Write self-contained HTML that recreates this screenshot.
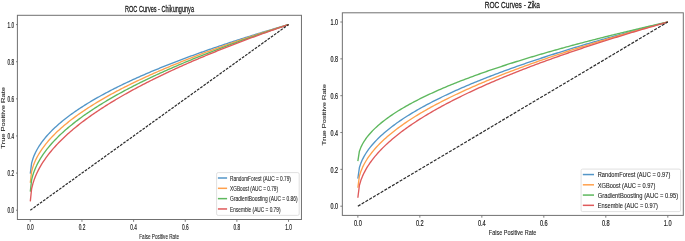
<!DOCTYPE html>
<html><head><meta charset="utf-8"><style>
html,body{margin:0;padding:0;background:#fff;}
body{width:685px;height:241px;overflow:hidden;position:relative;}
svg{position:absolute;left:0;top:0;will-change:transform;}
svg text{font-family:"Liberation Sans", sans-serif;}
</style></head><body>
<svg width="685" height="241" viewBox="0 0 685 241"><polyline points="30.31,173.65 31.61,163.08 32.91,158.70 34.20,155.35 35.50,152.51 36.80,150.02 38.10,147.76 39.39,145.69 40.69,143.76 41.99,141.95 43.29,140.23 44.59,138.60 45.88,137.04 47.18,135.55 48.48,134.11 49.78,132.72 51.07,131.38 52.37,130.08 53.67,128.82 54.97,127.59 56.26,126.39 57.56,125.22 58.86,124.08 60.16,122.97 61.45,121.88 62.75,120.81 64.05,119.77 65.35,118.74 66.64,117.73 67.94,116.74 69.24,115.77 70.54,114.81 71.84,113.87 73.13,112.94 74.43,112.03 75.73,111.13 77.03,110.25 78.32,109.37 79.62,108.51 80.92,107.66 82.22,106.82 83.51,105.99 84.81,105.17 86.11,104.36 87.41,103.55 88.70,102.76 90.00,101.98 91.30,101.20 92.60,100.44 93.89,99.68 95.19,98.93 96.49,98.18 97.79,97.45 99.09,96.72 100.38,96.00 101.68,95.28 102.98,94.57 104.28,93.87 105.57,93.17 106.87,92.48 108.17,91.80 109.47,91.12 110.76,90.44 112.06,89.77 113.36,89.11 114.66,88.45 115.95,87.80 117.25,87.15 118.55,86.51 119.85,85.87 121.15,85.24 122.44,84.61 123.74,83.98 125.04,83.36 126.34,82.75 127.63,82.13 128.93,81.53 130.23,80.92 131.53,80.32 132.82,79.73 134.12,79.13 135.42,78.54 136.72,77.96 138.01,77.38 139.31,76.80 140.61,76.22 141.91,75.65 143.20,75.09 144.50,74.52 145.80,73.96 147.10,73.40 148.40,72.84 149.69,72.29 150.99,71.74 152.29,71.20 153.59,70.65 154.88,70.11 156.18,69.57 157.48,69.04 158.78,68.51 160.07,67.98 161.37,67.45 162.67,66.93 163.97,66.40 165.26,65.89 166.56,65.37 167.86,64.85 169.16,64.34 170.45,63.83 171.75,63.33 173.05,62.82 174.35,62.32 175.65,61.82 176.94,61.32 178.24,60.82 179.54,60.33 180.84,59.84 182.13,59.35 183.43,58.86 184.73,58.38 186.03,57.89 187.32,57.41 188.62,56.93 189.92,56.45 191.22,55.98 192.51,55.51 193.81,55.03 195.11,54.56 196.41,54.10 197.70,53.63 199.00,53.17 200.30,52.70 201.60,52.24 202.90,51.78 204.19,51.33 205.49,50.87 206.79,50.42 208.09,49.96 209.38,49.51 210.68,49.06 211.98,48.62 213.28,48.17 214.57,47.73 215.87,47.28 217.17,46.84 218.47,46.40 219.76,45.97 221.06,45.53 222.36,45.09 223.66,44.66 224.96,44.23 226.25,43.80 227.55,43.37 228.85,42.94 230.15,42.51 231.44,42.09 232.74,41.67 234.04,41.24 235.34,40.82 236.63,40.40 237.93,39.98 239.23,39.57 240.53,39.15 241.82,38.74 243.12,38.32 244.42,37.91 245.72,37.50 247.01,37.09 248.31,36.68 249.61,36.28 250.91,35.87 252.21,35.47 253.50,35.06 254.80,34.66 256.10,34.26 257.40,33.86 258.69,33.46 259.99,33.06 261.29,32.67 262.59,32.27 263.88,31.88 265.18,31.48 266.48,31.09 267.78,30.70 269.07,30.31 270.37,29.92 271.67,29.53 272.97,29.15 274.26,28.76 275.56,28.38 276.86,27.99 278.16,27.61 279.46,27.23 280.75,26.85 282.05,26.47 283.35,26.09 284.65,25.71 285.94,25.33 287.24,24.96 288.54,24.58" fill="none" stroke="#5396c8" stroke-width="1.35" stroke-linejoin="round"/><polyline points="30.31,182.74 31.61,171.53 32.91,166.89 34.20,163.32 35.50,160.32 36.80,157.67 38.10,155.28 39.39,153.08 40.69,151.03 41.99,149.11 43.29,147.29 44.59,145.56 45.88,143.91 47.18,142.32 48.48,140.79 49.78,139.32 51.07,137.90 52.37,136.52 53.67,135.18 54.97,133.87 56.26,132.60 57.56,131.36 58.86,130.16 60.16,128.97 61.45,127.82 62.75,126.68 64.05,125.57 65.35,124.49 66.64,123.42 67.94,122.37 69.24,121.33 70.54,120.32 71.84,119.32 73.13,118.34 74.43,117.37 75.73,116.41 77.03,115.47 78.32,114.55 79.62,113.63 80.92,112.73 82.22,111.83 83.51,110.95 84.81,110.08 86.11,109.22 87.41,108.37 88.70,107.53 90.00,106.70 91.30,105.88 92.60,105.07 93.89,104.26 95.19,103.46 96.49,102.68 97.79,101.89 99.09,101.12 100.38,100.35 101.68,99.59 102.98,98.84 104.28,98.10 105.57,97.36 106.87,96.62 108.17,95.90 109.47,95.18 110.76,94.46 112.06,93.75 113.36,93.05 114.66,92.35 115.95,91.66 117.25,90.97 118.55,90.29 119.85,89.61 121.15,88.94 122.44,88.27 123.74,87.61 125.04,86.95 126.34,86.30 127.63,85.65 128.93,85.00 130.23,84.36 131.53,83.72 132.82,83.09 134.12,82.46 135.42,81.84 136.72,81.22 138.01,80.60 139.31,79.99 140.61,79.38 141.91,78.77 143.20,78.17 144.50,77.57 145.80,76.97 147.10,76.38 148.40,75.79 149.69,75.20 150.99,74.62 152.29,74.04 153.59,73.46 154.88,72.89 156.18,72.32 157.48,71.75 158.78,71.19 160.07,70.63 161.37,70.07 162.67,69.51 163.97,68.96 165.26,68.41 166.56,67.86 167.86,67.31 169.16,66.77 170.45,66.23 171.75,65.69 173.05,65.15 174.35,64.62 175.65,64.09 176.94,63.56 178.24,63.03 179.54,62.51 180.84,61.99 182.13,61.47 183.43,60.95 184.73,60.44 186.03,59.92 187.32,59.41 188.62,58.91 189.92,58.40 191.22,57.89 192.51,57.39 193.81,56.89 195.11,56.39 196.41,55.90 197.70,55.40 199.00,54.91 200.30,54.42 201.60,53.93 202.90,53.44 204.19,52.96 205.49,52.47 206.79,51.99 208.09,51.51 209.38,51.03 210.68,50.56 211.98,50.08 213.28,49.61 214.57,49.14 215.87,48.67 217.17,48.20 218.47,47.74 219.76,47.27 221.06,46.81 222.36,46.35 223.66,45.89 224.96,45.43 226.25,44.97 227.55,44.52 228.85,44.06 230.15,43.61 231.44,43.16 232.74,42.71 234.04,42.26 235.34,41.81 236.63,41.37 237.93,40.92 239.23,40.48 240.53,40.04 241.82,39.60 243.12,39.16 244.42,38.73 245.72,38.29 247.01,37.86 248.31,37.42 249.61,36.99 250.91,36.56 252.21,36.13 253.50,35.70 254.80,35.28 256.10,34.85 257.40,34.43 258.69,34.00 259.99,33.58 261.29,33.16 262.59,32.74 263.88,32.32 265.18,31.90 266.48,31.49 267.78,31.07 269.07,30.66 270.37,30.25 271.67,29.84 272.97,29.42 274.26,29.02 275.56,28.61 276.86,28.20 278.16,27.79 279.46,27.39 280.75,26.98 282.05,26.58 283.35,26.18 284.65,25.78 285.94,25.38 287.24,24.98 288.54,24.58" fill="none" stroke="#ffa04c" stroke-width="1.35" stroke-linejoin="round"/><polyline points="30.31,191.65 31.61,179.81 32.91,174.91 34.20,171.14 35.50,167.97 36.80,165.17 38.10,162.64 39.39,160.32 40.69,158.16 41.99,156.12 43.29,154.20 44.59,152.37 45.88,150.63 47.18,148.95 48.48,147.34 49.78,145.78 51.07,144.28 52.37,142.82 53.67,141.41 54.97,140.03 56.26,138.69 57.56,137.38 58.86,136.10 60.16,134.86 61.45,133.63 62.75,132.44 64.05,131.26 65.35,130.11 66.64,128.98 67.94,127.88 69.24,126.79 70.54,125.71 71.84,124.66 73.13,123.62 74.43,122.60 75.73,121.59 77.03,120.59 78.32,119.61 79.62,118.65 80.92,117.69 82.22,116.75 83.51,115.82 84.81,114.90 86.11,113.99 87.41,113.09 88.70,112.21 90.00,111.33 91.30,110.46 92.60,109.60 93.89,108.75 95.19,107.91 96.49,107.08 97.79,106.25 99.09,105.43 100.38,104.62 101.68,103.82 102.98,103.03 104.28,102.24 105.57,101.46 106.87,100.68 108.17,99.92 109.47,99.15 110.76,98.40 112.06,97.65 113.36,96.91 114.66,96.17 115.95,95.44 117.25,94.71 118.55,93.99 119.85,93.28 121.15,92.56 122.44,91.86 123.74,91.16 125.04,90.46 126.34,89.77 127.63,89.09 128.93,88.41 130.23,87.73 131.53,87.06 132.82,86.39 134.12,85.72 135.42,85.06 136.72,84.41 138.01,83.76 139.31,83.11 140.61,82.46 141.91,81.82 143.20,81.19 144.50,80.55 145.80,79.92 147.10,79.30 148.40,78.68 149.69,78.06 150.99,77.44 152.29,76.83 153.59,76.22 154.88,75.61 156.18,75.01 157.48,74.41 158.78,73.81 160.07,73.22 161.37,72.63 162.67,72.04 163.97,71.46 165.26,70.87 166.56,70.30 167.86,69.72 169.16,69.14 170.45,68.57 171.75,68.01 173.05,67.44 174.35,66.88 175.65,66.32 176.94,65.76 178.24,65.20 179.54,64.65 180.84,64.10 182.13,63.55 183.43,63.00 184.73,62.46 186.03,61.92 187.32,61.38 188.62,60.84 189.92,60.30 191.22,59.77 192.51,59.24 193.81,58.71 195.11,58.19 196.41,57.66 197.70,57.14 199.00,56.62 200.30,56.10 201.60,55.58 202.90,55.07 204.19,54.56 205.49,54.05 206.79,53.54 208.09,53.03 209.38,52.53 210.68,52.02 211.98,51.52 213.28,51.02 214.57,50.52 215.87,50.03 217.17,49.53 218.47,49.04 219.76,48.55 221.06,48.06 222.36,47.57 223.66,47.09 224.96,46.60 226.25,46.12 227.55,45.64 228.85,45.16 230.15,44.68 231.44,44.20 232.74,43.73 234.04,43.26 235.34,42.78 236.63,42.31 237.93,41.85 239.23,41.38 240.53,40.91 241.82,40.45 243.12,39.98 244.42,39.52 245.72,39.06 247.01,38.60 248.31,38.15 249.61,37.69 250.91,37.23 252.21,36.78 253.50,36.33 254.80,35.88 256.10,35.43 257.40,34.98 258.69,34.53 259.99,34.09 261.29,33.64 262.59,33.20 263.88,32.76 265.18,32.32 266.48,31.88 267.78,31.44 269.07,31.00 270.37,30.57 271.67,30.13 272.97,29.70 274.26,29.27 275.56,28.83 276.86,28.40 278.16,27.97 279.46,27.55 280.75,27.12 282.05,26.69 283.35,26.27 284.65,25.85 285.94,25.42 287.24,25.00 288.54,24.58" fill="none" stroke="#5eb85e" stroke-width="1.35" stroke-linejoin="round"/><polyline points="30.31,201.31 31.61,188.78 32.91,183.59 34.20,179.61 35.50,176.25 36.80,173.29 38.10,170.62 39.39,168.16 40.69,165.87 41.99,163.72 43.29,161.69 44.59,159.76 45.88,157.91 47.18,156.14 48.48,154.43 49.78,152.79 51.07,151.20 52.37,149.65 53.67,148.16 54.97,146.70 56.26,145.28 57.56,143.90 58.86,142.55 60.16,141.23 61.45,139.93 62.75,138.67 64.05,137.43 65.35,136.21 66.64,135.02 67.94,133.84 69.24,132.69 70.54,131.56 71.84,130.44 73.13,129.34 74.43,128.26 75.73,127.19 77.03,126.14 78.32,125.10 79.62,124.08 80.92,123.07 82.22,122.08 83.51,121.09 84.81,120.12 86.11,119.16 87.41,118.21 88.70,117.27 90.00,116.34 91.30,115.42 92.60,114.51 93.89,113.61 95.19,112.72 96.49,111.84 97.79,110.97 99.09,110.10 100.38,109.25 101.68,108.40 102.98,107.56 104.28,106.73 105.57,105.90 106.87,105.08 108.17,104.27 109.47,103.46 110.76,102.66 112.06,101.87 113.36,101.09 114.66,100.31 115.95,99.53 117.25,98.76 118.55,98.00 119.85,97.24 121.15,96.49 122.44,95.75 123.74,95.01 125.04,94.27 126.34,93.54 127.63,92.81 128.93,92.09 130.23,91.38 131.53,90.67 132.82,89.96 134.12,89.26 135.42,88.56 136.72,87.86 138.01,87.17 139.31,86.49 140.61,85.81 141.91,85.13 143.20,84.46 144.50,83.79 145.80,83.12 147.10,82.46 148.40,81.80 149.69,81.15 150.99,80.49 152.29,79.85 153.59,79.20 154.88,78.56 156.18,77.92 157.48,77.29 158.78,76.66 160.07,76.03 161.37,75.41 162.67,74.78 163.97,74.16 165.26,73.55 166.56,72.94 167.86,72.33 169.16,71.72 170.45,71.12 171.75,70.51 173.05,69.92 174.35,69.32 175.65,68.73 176.94,68.14 178.24,67.55 179.54,66.96 180.84,66.38 182.13,65.80 183.43,65.22 184.73,64.65 186.03,64.07 187.32,63.50 188.62,62.93 189.92,62.37 191.22,61.80 192.51,61.24 193.81,60.68 195.11,60.13 196.41,59.57 197.70,59.02 199.00,58.47 200.30,57.92 201.60,57.37 202.90,56.83 204.19,56.29 205.49,55.75 206.79,55.21 208.09,54.67 209.38,54.14 210.68,53.61 211.98,53.08 213.28,52.55 214.57,52.02 215.87,51.50 217.17,50.97 218.47,50.45 219.76,49.93 221.06,49.42 222.36,48.90 223.66,48.39 224.96,47.87 226.25,47.36 227.55,46.86 228.85,46.35 230.15,45.84 231.44,45.34 232.74,44.84 234.04,44.34 235.34,43.84 236.63,43.34 237.93,42.84 239.23,42.35 240.53,41.86 241.82,41.36 243.12,40.87 244.42,40.39 245.72,39.90 247.01,39.41 248.31,38.93 249.61,38.45 250.91,37.97 252.21,37.49 253.50,37.01 254.80,36.53 256.10,36.06 257.40,35.58 258.69,35.11 259.99,34.64 261.29,34.17 262.59,33.70 263.88,33.23 265.18,32.76 266.48,32.30 267.78,31.84 269.07,31.37 270.37,30.91 271.67,30.45 272.97,29.99 274.26,29.54 275.56,29.08 276.86,28.62 278.16,28.17 279.46,27.72 280.75,27.27 282.05,26.82 283.35,26.37 284.65,25.92 285.94,25.47 287.24,25.03 288.54,24.58" fill="none" stroke="#df5a5b" stroke-width="1.35" stroke-linejoin="round"/><line x1="30.31" y1="210.22" x2="288.54" y2="24.58" stroke="#2a2a2a" stroke-width="1.2" stroke-dasharray="2.75 1.20"/><rect x="17.40" y="15.30" width="284.05" height="204.20" fill="none" stroke="#707070" stroke-width="1"/><line x1="30.31" y1="219.50" x2="30.31" y2="221.80" stroke="#707070" stroke-width="0.9"/><line x1="16.00" y1="210.22" x2="17.40" y2="210.22" stroke="#707070" stroke-width="0.9"/><line x1="81.96" y1="219.50" x2="81.96" y2="221.80" stroke="#707070" stroke-width="0.9"/><line x1="16.00" y1="173.09" x2="17.40" y2="173.09" stroke="#707070" stroke-width="0.9"/><line x1="133.60" y1="219.50" x2="133.60" y2="221.80" stroke="#707070" stroke-width="0.9"/><line x1="16.00" y1="135.96" x2="17.40" y2="135.96" stroke="#707070" stroke-width="0.9"/><line x1="185.25" y1="219.50" x2="185.25" y2="221.80" stroke="#707070" stroke-width="0.9"/><line x1="16.00" y1="98.84" x2="17.40" y2="98.84" stroke="#707070" stroke-width="0.9"/><line x1="236.89" y1="219.50" x2="236.89" y2="221.80" stroke="#707070" stroke-width="0.9"/><line x1="16.00" y1="61.71" x2="17.40" y2="61.71" stroke="#707070" stroke-width="0.9"/><line x1="288.54" y1="219.50" x2="288.54" y2="221.80" stroke="#707070" stroke-width="0.9"/><line x1="16.00" y1="24.58" x2="17.40" y2="24.58" stroke="#707070" stroke-width="0.9"/><rect x="216.60" y="172.60" width="82.60" height="42.80" rx="1.5" fill="#fff" fill-opacity="0.8" stroke="#dcdcdc" stroke-width="0.9"/><line x1="217.90" y1="178.00" x2="227.10" y2="178.00" stroke="#5396c8" stroke-width="1.5"/><line x1="217.90" y1="188.32" x2="227.10" y2="188.32" stroke="#ffa04c" stroke-width="1.5"/><line x1="217.90" y1="198.64" x2="227.10" y2="198.64" stroke="#5eb85e" stroke-width="1.5"/><line x1="217.90" y1="208.96" x2="227.10" y2="208.96" stroke="#df5a5b" stroke-width="1.5"/><g fill="#1a1a1a" stroke="#1a1a1a" stroke-width="0.1"><text stroke-width="0.18" transform="translate(30.31,230.00) scale(0.585,1)" font-size="8.2" text-anchor="middle">0.0</text><text stroke-width="0.22" transform="translate(14.10,213.37) scale(0.57,1)" font-size="8.2" text-anchor="end">0.0</text><text stroke-width="0.18" transform="translate(81.96,230.00) scale(0.585,1)" font-size="8.2" text-anchor="middle">0.2</text><text stroke-width="0.22" transform="translate(14.10,176.24) scale(0.57,1)" font-size="8.2" text-anchor="end">0.2</text><text stroke-width="0.18" transform="translate(133.60,230.00) scale(0.585,1)" font-size="8.2" text-anchor="middle">0.4</text><text stroke-width="0.22" transform="translate(14.10,139.11) scale(0.57,1)" font-size="8.2" text-anchor="end">0.4</text><text stroke-width="0.18" transform="translate(185.25,230.00) scale(0.585,1)" font-size="8.2" text-anchor="middle">0.6</text><text stroke-width="0.22" transform="translate(14.10,101.99) scale(0.57,1)" font-size="8.2" text-anchor="end">0.6</text><text stroke-width="0.18" transform="translate(236.89,230.00) scale(0.585,1)" font-size="8.2" text-anchor="middle">0.8</text><text stroke-width="0.22" transform="translate(14.10,64.86) scale(0.57,1)" font-size="8.2" text-anchor="end">0.8</text><text stroke-width="0.18" transform="translate(288.54,230.00) scale(0.585,1)" font-size="8.2" text-anchor="middle">1.0</text><text stroke-width="0.22" transform="translate(14.10,27.73) scale(0.57,1)" font-size="8.2" text-anchor="end">1.0</text><text transform="translate(159.15,238.80)" font-size="7.9" text-anchor="middle" textLength="39.70" lengthAdjust="spacingAndGlyphs">False Positive Rate</text><text stroke-width="0.12" fill="#2a2a2a" stroke="#2a2a2a" transform="translate(5.15,117.90) scale(0.72,1) rotate(-90)" font-size="7.9" text-anchor="middle" textLength="61.60" lengthAdjust="spacingAndGlyphs">True Positive Rate</text><text stroke-width="0.28" transform="translate(159.50,11.50)" font-size="9.5" text-anchor="middle" textLength="69.00" lengthAdjust="spacingAndGlyphs">ROC Curves - Chikungunya</text><text transform="translate(230.10,180.75)" font-size="8.1" text-anchor="start" textLength="60.80" lengthAdjust="spacingAndGlyphs">RandomForest (AUC = 0.79)</text><text transform="translate(230.10,191.07)" font-size="8.1" text-anchor="start" textLength="47.90" lengthAdjust="spacingAndGlyphs">XGBoost (AUC = 0.79)</text><text transform="translate(230.10,201.39)" font-size="8.1" text-anchor="start" textLength="67.50" lengthAdjust="spacingAndGlyphs">GradientBoosting (AUC = 0.86)</text><text transform="translate(230.10,211.71)" font-size="8.1" text-anchor="start" textLength="50.40" lengthAdjust="spacingAndGlyphs">Ensemble (AUC = 0.79)</text></g><polyline points="357.85,178.56 359.41,167.47 360.96,162.87 362.52,159.34 364.08,156.37 365.64,153.75 367.19,151.38 368.75,149.20 370.31,147.17 371.87,145.27 373.42,143.47 374.98,141.76 376.54,140.12 378.10,138.55 379.65,137.04 381.21,135.58 382.77,134.17 384.33,132.81 385.88,131.48 387.44,130.19 389.00,128.93 390.56,127.71 392.11,126.51 393.67,125.34 395.23,124.20 396.79,123.07 398.34,121.98 399.90,120.90 401.46,119.84 403.02,118.80 404.57,117.78 406.13,116.77 407.69,115.78 409.25,114.81 410.80,113.85 412.36,112.91 413.92,111.98 415.48,111.06 417.04,110.15 418.59,109.26 420.15,108.37 421.71,107.50 423.27,106.64 424.82,105.79 426.38,104.95 427.94,104.12 429.50,103.29 431.05,102.48 432.61,101.68 434.17,100.88 435.73,100.09 437.28,99.31 438.84,98.54 440.40,97.77 441.96,97.01 443.51,96.26 445.07,95.51 446.63,94.78 448.19,94.04 449.74,93.32 451.30,92.60 452.86,91.89 454.42,91.18 455.97,90.48 457.53,89.78 459.09,89.09 460.65,88.40 462.20,87.72 463.76,87.05 465.32,86.38 466.88,85.71 468.43,85.05 469.99,84.40 471.55,83.74 473.11,83.10 474.66,82.45 476.22,81.81 477.78,81.18 479.34,80.55 480.90,79.92 482.45,79.30 484.01,78.68 485.57,78.07 487.13,77.46 488.68,76.85 490.24,76.25 491.80,75.65 493.36,75.05 494.91,74.46 496.47,73.87 498.03,73.28 499.59,72.70 501.14,72.12 502.70,71.54 504.26,70.97 505.82,70.40 507.37,69.83 508.93,69.26 510.49,68.70 512.05,68.14 513.60,67.59 515.16,67.03 516.72,66.48 518.28,65.93 519.83,65.39 521.39,64.84 522.95,64.30 524.51,63.77 526.06,63.23 527.62,62.70 529.18,62.17 530.74,61.64 532.29,61.11 533.85,60.59 535.41,60.07 536.97,59.55 538.52,59.04 540.08,58.52 541.64,58.01 543.20,57.50 544.75,56.99 546.31,56.49 547.87,55.98 549.43,55.48 550.99,54.98 552.54,54.49 554.10,53.99 555.66,53.50 557.22,53.01 558.77,52.52 560.33,52.03 561.89,51.54 563.45,51.06 565.00,50.58 566.56,50.10 568.12,49.62 569.68,49.14 571.23,48.67 572.79,48.19 574.35,47.72 575.91,47.25 577.46,46.78 579.02,46.32 580.58,45.85 582.14,45.39 583.69,44.93 585.25,44.47 586.81,44.01 588.37,43.55 589.92,43.10 591.48,42.64 593.04,42.19 594.60,41.74 596.15,41.29 597.71,40.84 599.27,40.40 600.83,39.95 602.38,39.51 603.94,39.07 605.50,38.62 607.06,38.19 608.61,37.75 610.17,37.31 611.73,36.88 613.29,36.44 614.85,36.01 616.40,35.58 617.96,35.15 619.52,34.72 621.08,34.29 622.63,33.87 624.19,33.44 625.75,33.02 627.31,32.59 628.86,32.17 630.42,31.75 631.98,31.33 633.54,30.92 635.09,30.50 636.65,30.08 638.21,29.67 639.77,29.26 641.32,28.85 642.88,28.43 644.44,28.02 646.00,27.62 647.55,27.21 649.11,26.80 650.67,26.40 652.23,25.99 653.78,25.59 655.34,25.19 656.90,24.79 658.46,24.39 660.01,23.99 661.57,23.59 663.13,23.19 664.69,22.80 666.24,22.40 667.80,22.01" fill="none" stroke="#5396c8" stroke-width="1.35" stroke-linejoin="round"/><polyline points="357.85,187.77 359.41,176.02 360.96,171.15 362.52,167.42 364.08,164.27 365.64,161.50 367.19,158.99 368.75,156.68 370.31,154.54 371.87,152.52 373.42,150.61 374.98,148.80 376.54,147.07 378.10,145.41 379.65,143.81 381.21,142.26 382.77,140.77 384.33,139.32 385.88,137.92 387.44,136.55 389.00,135.22 390.56,133.92 392.11,132.66 393.67,131.42 395.23,130.21 396.79,129.02 398.34,127.86 399.90,126.71 401.46,125.59 403.02,124.49 404.57,123.41 406.13,122.35 407.69,121.30 409.25,120.27 410.80,119.26 412.36,118.25 413.92,117.27 415.48,116.30 417.04,115.34 418.59,114.39 420.15,113.45 421.71,112.53 423.27,111.62 424.82,110.72 426.38,109.83 427.94,108.95 429.50,108.08 431.05,107.21 432.61,106.36 434.17,105.52 435.73,104.68 437.28,103.86 438.84,103.04 440.40,102.23 441.96,101.42 443.51,100.63 445.07,99.84 446.63,99.06 448.19,98.28 449.74,97.51 451.30,96.75 452.86,96.00 454.42,95.25 455.97,94.50 457.53,93.77 459.09,93.04 460.65,92.31 462.20,91.59 463.76,90.87 465.32,90.16 466.88,89.46 468.43,88.76 469.99,88.06 471.55,87.37 473.11,86.69 474.66,86.01 476.22,85.33 477.78,84.66 479.34,83.99 480.90,83.33 482.45,82.67 484.01,82.02 485.57,81.37 487.13,80.72 488.68,80.08 490.24,79.44 491.80,78.80 493.36,78.17 494.91,77.54 496.47,76.92 498.03,76.30 499.59,75.68 501.14,75.06 502.70,74.45 504.26,73.85 505.82,73.24 507.37,72.64 508.93,72.04 510.49,71.45 512.05,70.86 513.60,70.27 515.16,69.68 516.72,69.10 518.28,68.52 519.83,67.94 521.39,67.36 522.95,66.79 524.51,66.22 526.06,65.66 527.62,65.09 529.18,64.53 530.74,63.97 532.29,63.42 533.85,62.86 535.41,62.31 536.97,61.76 538.52,61.21 540.08,60.67 541.64,60.13 543.20,59.59 544.75,59.05 546.31,58.52 547.87,57.98 549.43,57.45 550.99,56.92 552.54,56.40 554.10,55.87 555.66,55.35 557.22,54.83 558.77,54.31 560.33,53.79 561.89,53.28 563.45,52.77 565.00,52.26 566.56,51.75 568.12,51.24 569.68,50.74 571.23,50.23 572.79,49.73 574.35,49.23 575.91,48.74 577.46,48.24 579.02,47.75 580.58,47.26 582.14,46.76 583.69,46.28 585.25,45.79 586.81,45.30 588.37,44.82 589.92,44.34 591.48,43.86 593.04,43.38 594.60,42.90 596.15,42.42 597.71,41.95 599.27,41.48 600.83,41.01 602.38,40.54 603.94,40.07 605.50,39.60 607.06,39.14 608.61,38.67 610.17,38.21 611.73,37.75 613.29,37.29 614.85,36.83 616.40,36.38 617.96,35.92 619.52,35.47 621.08,35.01 622.63,34.56 624.19,34.11 625.75,33.66 627.31,33.22 628.86,32.77 630.42,32.33 631.98,31.88 633.54,31.44 635.09,31.00 636.65,30.56 638.21,30.12 639.77,29.68 641.32,29.25 642.88,28.81 644.44,28.38 646.00,27.95 647.55,27.51 649.11,27.08 650.67,26.66 652.23,26.23 653.78,25.80 655.34,25.38 656.90,24.95 658.46,24.53 660.01,24.10 661.57,23.68 663.13,23.26 664.69,22.84 666.24,22.43 667.80,22.01" fill="none" stroke="#ffa04c" stroke-width="1.35" stroke-linejoin="round"/><polyline points="357.85,161.07 359.41,151.21 360.96,147.13 362.52,143.99 364.08,141.35 365.64,139.02 367.19,136.92 368.75,134.99 370.31,133.19 371.87,131.49 373.42,129.89 374.98,128.37 376.54,126.92 378.10,125.52 379.65,124.18 381.21,122.89 382.77,121.64 384.33,120.42 385.88,119.24 387.44,118.10 389.00,116.98 390.56,115.89 392.11,114.83 393.67,113.79 395.23,112.77 396.79,111.78 398.34,110.80 399.90,109.85 401.46,108.91 403.02,107.98 404.57,107.07 406.13,106.18 407.69,105.30 409.25,104.44 410.80,103.59 412.36,102.75 413.92,101.92 415.48,101.11 417.04,100.30 418.59,99.51 420.15,98.72 421.71,97.95 423.27,97.18 424.82,96.43 426.38,95.68 427.94,94.94 429.50,94.21 431.05,93.49 432.61,92.77 434.17,92.06 435.73,91.36 437.28,90.67 438.84,89.98 440.40,89.30 441.96,88.63 443.51,87.96 445.07,87.30 446.63,86.64 448.19,85.99 449.74,85.35 451.30,84.71 452.86,84.08 454.42,83.45 455.97,82.82 457.53,82.21 459.09,81.59 460.65,80.98 462.20,80.38 463.76,79.78 465.32,79.18 466.88,78.59 468.43,78.01 469.99,77.42 471.55,76.84 473.11,76.27 474.66,75.70 476.22,75.13 477.78,74.57 479.34,74.01 480.90,73.45 482.45,72.90 484.01,72.35 485.57,71.80 487.13,71.26 488.68,70.72 490.24,70.18 491.80,69.65 493.36,69.12 494.91,68.59 496.47,68.07 498.03,67.55 499.59,67.03 501.14,66.52 502.70,66.00 504.26,65.49 505.82,64.99 507.37,64.48 508.93,63.98 510.49,63.48 512.05,62.99 513.60,62.49 515.16,62.00 516.72,61.51 518.28,61.02 519.83,60.54 521.39,60.06 522.95,59.58 524.51,59.10 526.06,58.62 527.62,58.15 529.18,57.68 530.74,57.21 532.29,56.74 533.85,56.28 535.41,55.82 536.97,55.36 538.52,54.90 540.08,54.44 541.64,53.99 543.20,53.53 544.75,53.08 546.31,52.63 547.87,52.19 549.43,51.74 550.99,51.30 552.54,50.86 554.10,50.42 555.66,49.98 557.22,49.54 558.77,49.11 560.33,48.67 561.89,48.24 563.45,47.81 565.00,47.38 566.56,46.96 568.12,46.53 569.68,46.11 571.23,45.69 572.79,45.27 574.35,44.85 575.91,44.43 577.46,44.01 579.02,43.60 580.58,43.19 582.14,42.78 583.69,42.37 585.25,41.96 586.81,41.55 588.37,41.14 589.92,40.74 591.48,40.34 593.04,39.94 594.60,39.53 596.15,39.14 597.71,38.74 599.27,38.34 600.83,37.95 602.38,37.55 603.94,37.16 605.50,36.77 607.06,36.38 608.61,35.99 610.17,35.60 611.73,35.21 613.29,34.83 614.85,34.44 616.40,34.06 617.96,33.68 619.52,33.30 621.08,32.92 622.63,32.54 624.19,32.16 625.75,31.79 627.31,31.41 628.86,31.04 630.42,30.66 631.98,30.29 633.54,29.92 635.09,29.55 636.65,29.18 638.21,28.81 639.77,28.45 641.32,28.08 642.88,27.72 644.44,27.35 646.00,26.99 647.55,26.63 649.11,26.27 650.67,25.91 652.23,25.55 653.78,25.19 655.34,24.83 656.90,24.48 658.46,24.12 660.01,23.77 661.57,23.41 663.13,23.06 664.69,22.71 666.24,22.36 667.80,22.01" fill="none" stroke="#5eb85e" stroke-width="1.35" stroke-linejoin="round"/><polyline points="357.85,197.72 359.41,185.26 360.96,180.10 362.52,176.14 364.08,172.81 365.64,169.87 367.19,167.21 368.75,164.76 370.31,162.49 371.87,160.35 373.42,158.33 374.98,156.41 376.54,154.57 378.10,152.81 379.65,151.11 381.21,149.48 382.77,147.90 384.33,146.36 385.88,144.87 387.44,143.43 389.00,142.01 390.56,140.64 392.11,139.30 393.67,137.98 395.23,136.70 396.79,135.44 398.34,134.21 399.90,133.00 401.46,131.81 403.02,130.64 404.57,129.50 406.13,128.37 407.69,127.26 409.25,126.17 410.80,125.09 412.36,124.03 413.92,122.98 415.48,121.95 417.04,120.94 418.59,119.93 420.15,118.94 421.71,117.96 423.27,117.00 424.82,116.04 426.38,115.10 427.94,114.16 429.50,113.24 431.05,112.33 432.61,111.42 434.17,110.53 435.73,109.64 437.28,108.77 438.84,107.90 440.40,107.04 441.96,106.19 443.51,105.34 445.07,104.51 446.63,103.68 448.19,102.86 449.74,102.04 451.30,101.24 452.86,100.44 454.42,99.64 455.97,98.85 457.53,98.07 459.09,97.30 460.65,96.53 462.20,95.76 463.76,95.01 465.32,94.25 466.88,93.51 468.43,92.76 469.99,92.03 471.55,91.30 473.11,90.57 474.66,89.85 476.22,89.13 477.78,88.42 479.34,87.71 480.90,87.01 482.45,86.31 484.01,85.62 485.57,84.93 487.13,84.24 488.68,83.56 490.24,82.88 491.80,82.21 493.36,81.54 494.91,80.87 496.47,80.21 498.03,79.55 499.59,78.90 501.14,78.25 502.70,77.60 504.26,76.96 505.82,76.32 507.37,75.68 508.93,75.04 510.49,74.41 512.05,73.79 513.60,73.16 515.16,72.54 516.72,71.92 518.28,71.31 519.83,70.69 521.39,70.09 522.95,69.48 524.51,68.88 526.06,68.27 527.62,67.68 529.18,67.08 530.74,66.49 532.29,65.90 533.85,65.31 535.41,64.73 536.97,64.15 538.52,63.57 540.08,62.99 541.64,62.41 543.20,61.84 544.75,61.27 546.31,60.71 547.87,60.14 549.43,59.58 550.99,59.02 552.54,58.46 554.10,57.90 555.66,57.35 557.22,56.80 558.77,56.25 560.33,55.70 561.89,55.16 563.45,54.61 565.00,54.07 566.56,53.53 568.12,53.00 569.68,52.46 571.23,51.93 572.79,51.40 574.35,50.87 575.91,50.34 577.46,49.82 579.02,49.29 580.58,48.77 582.14,48.25 583.69,47.73 585.25,47.22 586.81,46.70 588.37,46.19 589.92,45.68 591.48,45.17 593.04,44.66 594.60,44.15 596.15,43.65 597.71,43.15 599.27,42.65 600.83,42.15 602.38,41.65 603.94,41.15 605.50,40.66 607.06,40.16 608.61,39.67 610.17,39.18 611.73,38.69 613.29,38.21 614.85,37.72 616.40,37.24 617.96,36.76 619.52,36.27 621.08,35.79 622.63,35.32 624.19,34.84 625.75,34.36 627.31,33.89 628.86,33.42 630.42,32.94 631.98,32.47 633.54,32.01 635.09,31.54 636.65,31.07 638.21,30.61 639.77,30.14 641.32,29.68 642.88,29.22 644.44,28.76 646.00,28.30 647.55,27.85 649.11,27.39 650.67,26.93 652.23,26.48 653.78,26.03 655.34,25.58 656.90,25.13 658.46,24.68 660.01,24.23 661.57,23.78 663.13,23.34 664.69,22.89 666.24,22.45 667.80,22.01" fill="none" stroke="#df5a5b" stroke-width="1.35" stroke-linejoin="round"/><line x1="357.85" y1="206.19" x2="667.80" y2="22.01" stroke="#2a2a2a" stroke-width="1.2" stroke-dasharray="3.08 1.34"/><rect x="342.35" y="12.80" width="340.95" height="202.60" fill="none" stroke="#707070" stroke-width="1"/><line x1="357.85" y1="215.40" x2="357.85" y2="217.70" stroke="#707070" stroke-width="0.9"/><line x1="340.35" y1="206.19" x2="342.35" y2="206.19" stroke="#707070" stroke-width="0.9"/><line x1="419.84" y1="215.40" x2="419.84" y2="217.70" stroke="#707070" stroke-width="0.9"/><line x1="340.35" y1="169.35" x2="342.35" y2="169.35" stroke="#707070" stroke-width="0.9"/><line x1="481.83" y1="215.40" x2="481.83" y2="217.70" stroke="#707070" stroke-width="0.9"/><line x1="340.35" y1="132.52" x2="342.35" y2="132.52" stroke="#707070" stroke-width="0.9"/><line x1="543.82" y1="215.40" x2="543.82" y2="217.70" stroke="#707070" stroke-width="0.9"/><line x1="340.35" y1="95.68" x2="342.35" y2="95.68" stroke="#707070" stroke-width="0.9"/><line x1="605.81" y1="215.40" x2="605.81" y2="217.70" stroke="#707070" stroke-width="0.9"/><line x1="340.35" y1="58.85" x2="342.35" y2="58.85" stroke="#707070" stroke-width="0.9"/><line x1="667.80" y1="215.40" x2="667.80" y2="217.70" stroke="#707070" stroke-width="0.9"/><line x1="340.35" y1="22.01" x2="342.35" y2="22.01" stroke="#707070" stroke-width="0.9"/><rect x="581.10" y="169.10" width="99.50" height="42.50" rx="1.5" fill="#fff" fill-opacity="0.8" stroke="#dcdcdc" stroke-width="0.9"/><line x1="582.80" y1="174.55" x2="594.00" y2="174.55" stroke="#5396c8" stroke-width="1.5"/><line x1="582.80" y1="184.81" x2="594.00" y2="184.81" stroke="#ffa04c" stroke-width="1.5"/><line x1="582.80" y1="195.07" x2="594.00" y2="195.07" stroke="#5eb85e" stroke-width="1.5"/><line x1="582.80" y1="205.33" x2="594.00" y2="205.33" stroke="#df5a5b" stroke-width="1.5"/><g fill="#1a1a1a" stroke="#1a1a1a" stroke-width="0.1"><text stroke-width="0.18" transform="translate(357.85,225.90) scale(0.69,1)" font-size="8.2" text-anchor="middle">0.0</text><text stroke-width="0.22" transform="translate(338.00,209.34) scale(0.66,1)" font-size="8.2" text-anchor="end">0.0</text><text stroke-width="0.18" transform="translate(419.84,225.90) scale(0.69,1)" font-size="8.2" text-anchor="middle">0.2</text><text stroke-width="0.22" transform="translate(338.00,172.50) scale(0.66,1)" font-size="8.2" text-anchor="end">0.2</text><text stroke-width="0.18" transform="translate(481.83,225.90) scale(0.69,1)" font-size="8.2" text-anchor="middle">0.4</text><text stroke-width="0.22" transform="translate(338.00,135.67) scale(0.66,1)" font-size="8.2" text-anchor="end">0.4</text><text stroke-width="0.18" transform="translate(543.82,225.90) scale(0.69,1)" font-size="8.2" text-anchor="middle">0.6</text><text stroke-width="0.22" transform="translate(338.00,98.83) scale(0.66,1)" font-size="8.2" text-anchor="end">0.6</text><text stroke-width="0.18" transform="translate(605.81,225.90) scale(0.69,1)" font-size="8.2" text-anchor="middle">0.8</text><text stroke-width="0.22" transform="translate(338.00,62.00) scale(0.66,1)" font-size="8.2" text-anchor="end">0.8</text><text stroke-width="0.18" transform="translate(667.80,225.90) scale(0.69,1)" font-size="8.2" text-anchor="middle">1.0</text><text stroke-width="0.22" transform="translate(338.00,25.16) scale(0.66,1)" font-size="8.2" text-anchor="end">1.0</text><text transform="translate(512.55,234.70)" font-size="7.9" text-anchor="middle" textLength="47.50" lengthAdjust="spacingAndGlyphs">False Positive Rate</text><text stroke-width="0.12" fill="#2a2a2a" stroke="#2a2a2a" transform="translate(326.35,114.80) scale(0.72,1) rotate(-90)" font-size="7.9" text-anchor="middle" textLength="61.20" lengthAdjust="spacingAndGlyphs">True Positive Rate</text><text stroke-width="0.28" transform="translate(512.35,7.85)" font-size="9.5" text-anchor="middle" textLength="55.30" lengthAdjust="spacingAndGlyphs">ROC Curves - Zika</text><text transform="translate(597.70,177.30)" font-size="8.1" text-anchor="start" textLength="72.60" lengthAdjust="spacingAndGlyphs">RandomForest (AUC = 0.97)</text><text transform="translate(597.70,187.56)" font-size="8.1" text-anchor="start" textLength="57.70" lengthAdjust="spacingAndGlyphs">XGBoost (AUC = 0.97)</text><text transform="translate(597.70,197.82)" font-size="8.1" text-anchor="start" textLength="80.50" lengthAdjust="spacingAndGlyphs">GradientBoosting (AUC = 0.95)</text><text transform="translate(597.70,208.08)" font-size="8.1" text-anchor="start" textLength="60.10" lengthAdjust="spacingAndGlyphs">Ensemble (AUC = 0.97)</text></g></svg>
</body></html>
